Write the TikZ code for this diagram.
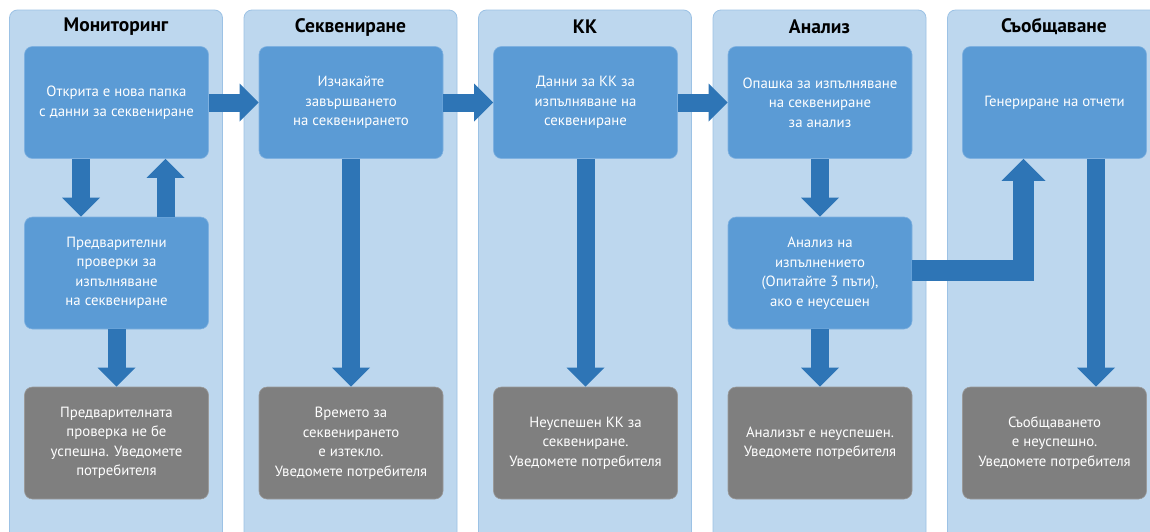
\documentclass[tikz,border=0pt]{standalone}
\usepackage{fontspec}
\setmainfont{PT Sans}
\usetikzlibrary{arrows.meta}
\definecolor{lanefill}{HTML}{BDD7EE}
\definecolor{laneborder}{HTML}{9CC2E5}
\definecolor{boxfill}{HTML}{5B9BD5}
\definecolor{boxborder}{HTML}{7FB1E0}
\definecolor{grayfill}{HTML}{7F7F7F}
\definecolor{grayborder}{HTML}{9A9A9A}
\definecolor{arrowcol}{HTML}{2E75B6}
\tikzset{
  lane/.style={fill=lanefill, draw=laneborder, line width=0.8pt, rounded corners=8pt},
  lanetitle/.style={font=\fontsize{19.5}{22}\selectfont\bfseries, text=black, anchor=center},
  basebox/.style={minimum width=184pt, minimum height=112pt, rounded corners=8pt,
    align=center, text=white, inner sep=2pt, line width=0.6pt,
    font=\fontsize{14.8}{19.5}\selectfont},
  bluebox/.style={basebox, fill=boxfill, draw=boxborder},
  graybox/.style={basebox, fill=grayfill, draw=grayborder},
  bigarrow/.style={draw=arrowcol, line width=18pt, line join=miter,
    -{Triangle[width=38pt,length=19pt,line width=0pt,color=arrowcol,fill=arrowcol]}},
  elbowarrow/.style={draw=arrowcol, line width=21pt, line join=miter,
    -{Triangle[width=44pt,length=22pt,line width=0pt,color=arrowcol,fill=arrowcol]}}
}
\begin{document}
\begin{tikzpicture}[x=1pt,y=-1pt]
\clip (0,0) rectangle (1150,531);
\fill[white] (0,0) rectangle (1150,531);
% lanes
\draw[lane] (9.5,10) rectangle (222.5,545);
\draw[lane] (244,10) rectangle (457,545);
\draw[lane] (478.5,10) rectangle (691.5,545);
\draw[lane] (713,10) rectangle (926,545);
\draw[lane] (947.5,10) rectangle (1160.5,545);
% titles
\node[lanetitle] (h1) at (116,27) {Мониторинг};
\node[lanetitle] (h2) at (350.5,27) {Секвениране};
\node[lanetitle] (h3) at (585,27) {КК};
\node[lanetitle] (h4) at (819.5,27) {Анализ};
\node[lanetitle] (h5) at (1054,27) {Съобщаване};
% row 1
\node[bluebox] (t1) at (116.5,102.5) {Открита е нова папка\\с данни за секвениране};
\node[bluebox] (t2) at (351,102.5) {Изчакайте\\завършването\\на секвенирането};
\node[bluebox] (t3) at (585.5,102.5) {Данни за КК за\\изпълняване на\\секвениране};
\node[bluebox] (t4) at (820,102.5) {Опашка за изпълняване\\на секвениране\\за анализ};
\node[bluebox] (t5) at (1054.5,102.5) {Генериране на отчети};
% row 2
\node[bluebox] (m1) at (116.5,273) {Предварителни\\проверки за\\изпълняване\\на секвениране};
\node[bluebox] (m4) at (820,273) {Анализ на\\изпълнението\\(Опитайте 3 пъти),\\ако е неусешен};
% row 3
\node[graybox] (g1) at (116.5,443) {Предварителната\\проверка не бе\\успешна. Уведомете\\потребителя};
\node[graybox] (g2) at (351,443) {Времето за\\секвенирането\\е изтекло.\\Уведомете потребителя};
\node[graybox] (g3) at (585.5,443) {Неуспешен КК за\\секвениране.\\Уведомете потребителя};
\node[graybox] (g4) at (820,443) {Анализът е неуспешен.\\Уведомете потребителя};
\node[graybox] (g5) at (1054.5,443) {Съобщаването\\е неуспешно.\\Уведомете потребителя};
% horizontal arrows
\draw[bigarrow] (t1.east) -- (t2.west);
\draw[bigarrow] (t2.east) -- (t3.west);
\draw[bigarrow] (t3.east) -- (t4.west);
% lane 1
\draw[bigarrow] ([xshift=-35.5pt]t1.south) -- ([xshift=-35.5pt]m1.north);
\draw[bigarrow] ([xshift=49pt]m1.north) -- ([xshift=49pt]t1.south);
\draw[bigarrow] (m1.south) -- (g1.north);
% lane 2, 3
\draw[bigarrow] (t2.south) -- (g2.north);
\draw[bigarrow] (t3.south) -- (g3.north);
% lane 4
\draw[bigarrow] (t4.south) -- (m4.north);
\draw[bigarrow] (m4.south) -- (g4.north);
\draw[elbowarrow] ([yshift=3pt]m4.east) -| ([xshift=-31pt]t5.south);
% lane 5
\draw[bigarrow] ([xshift=41.5pt]t5.south) -- ([xshift=41.5pt]g5.north);
\end{tikzpicture}
\end{document}
